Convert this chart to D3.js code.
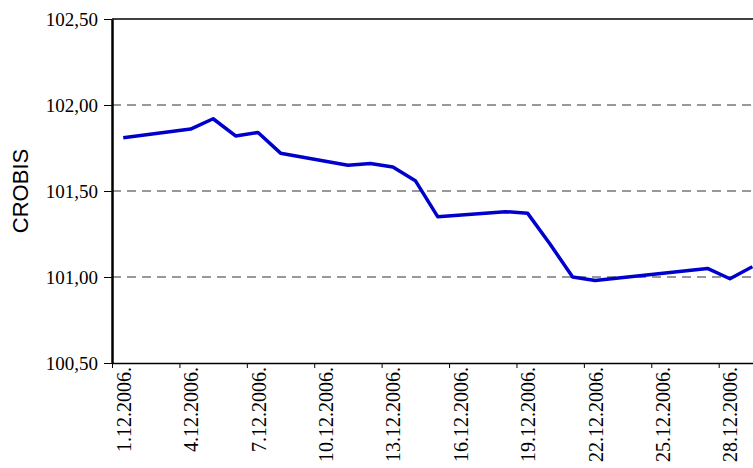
<!DOCTYPE html>
<html>
<head>
<meta charset="utf-8">
<script src="https://cdn.jsdelivr.net/npm/d3@7"></script>
<style>
  body { margin: 0; background: #fff; }
  svg { display: block; }
  .serif text { font-family: "Liberation Serif", "Times New Roman", Times, serif; }
</style>
</head>
<body>
<svg id="chart" width="753" height="468"></svg>
<script>
(function() {
// trading days of december 2006 (weekends and christmas are missing)
var days = [1, 4, 5, 6, 7, 8, 11, 12, 13, 14, 15, 18, 19, 20, 21, 22, 27, 28, 29];
var crobis = [101.81, 101.86, 101.92, 101.82, 101.84, 101.72, 101.65, 101.66, 101.64, 101.56,
              101.35, 101.38, 101.37, 101.19, 101.00, 100.98, 101.05, 100.99, 101.06];
var yTicks = [100.5, 101.0, 101.5, 102.0, 102.5];
var xTickDays = [1, 4, 7, 10, 13, 16, 19, 22, 25, 28];

var width = 753, height = 468;
var left = 112, top = 19, bottom = 363;
var dayW = 22.47;

var svg = d3.select("#chart");

var x = d3.scaleUtc()
  .domain([new Date(Date.UTC(2006, 11, 1)), new Date(Date.UTC(2006, 11, 32))])
  .range([left, left + 31 * dayW]);
var y = d3.scaleLinear().domain([100.5, 102.5]).range([bottom, top]);

var dayDate = function(d) { return new Date(Date.UTC(2006, 11, d)); };
var mid = function(d) { return new Date(Date.UTC(2006, 11, d, 12)); };

// dashed grid
svg.append("g")
  .selectAll("line")
  .data([101.0, 101.5, 102.0])
  .join("line")
  .attr("x1", left).attr("x2", width)
  .attr("y1", d => y(d)).attr("y2", d => y(d))
  .attr("stroke", "#333")
  .attr("stroke-width", 1)
  .attr("stroke-dasharray", "9,6");

// top border of plot area
svg.append("line")
  .attr("x1", left).attr("x2", width)
  .attr("y1", y(102.5)).attr("y2", y(102.5))
  .attr("stroke", "#000").attr("stroke-width", 1.5);

// x axis
var xAxis = svg.append("g")
  .attr("class", "serif")
  .attr("transform", "translate(0," + bottom + ")")
  .call(d3.axisBottom(x)
    .tickValues(xTickDays.map(dayDate))
    .tickSize(5)
    .tickSizeOuter(0)
    .tickFormat(d => d.getUTCDate() + ".12.2006."));
xAxis.attr("font-family", null).attr("font-size", 20);
xAxis.select(".domain").attr("stroke", "#000").attr("stroke-width", 1.5);
xAxis.selectAll(".tick line").attr("stroke", "#000");
xAxis.selectAll("text")
  .attr("transform", "rotate(-90)")
  .attr("x", -4)
  .attr("y", dayW / 2)
  .attr("dy", "0.35em")
  .attr("text-anchor", "end")
  .attr("fill", "#000");

// y axis
var yAxis = svg.append("g")
  .attr("class", "serif")
  .attr("transform", "translate(" + left + ",0)")
  .call(d3.axisLeft(y)
    .tickValues(yTicks)
    .tickSize(8)
    .tickSizeOuter(0)
    .tickPadding(6)
    .tickFormat(d => d3.format(".2f")(d).replace(".", ",")));
yAxis.attr("font-family", null).attr("font-size", 19);
yAxis.select(".domain").attr("stroke", "#000").attr("stroke-width", 2.5);
yAxis.selectAll(".tick line").attr("stroke", "#000");
yAxis.selectAll("text").attr("fill", "#000");

// axis title
svg.append("text")
  .attr("transform", "translate(28,191) rotate(-90)")
  .attr("text-anchor", "middle")
  .attr("font-family", "'Liberation Sans', Arial, sans-serif")
  .attr("font-size", 22)
  .text("CROBIS");

// the line
var line = d3.line()
  .x((d, i) => x(mid(days[i])))
  .y(d => y(d));

svg.append("path")
  .datum(crobis)
  .attr("d", line)
  .attr("fill", "none")
  .attr("stroke", "#0000cc")
  .attr("stroke-width", 3.5)
  .attr("stroke-linejoin", "round");
})();
</script>
</body>
</html>
